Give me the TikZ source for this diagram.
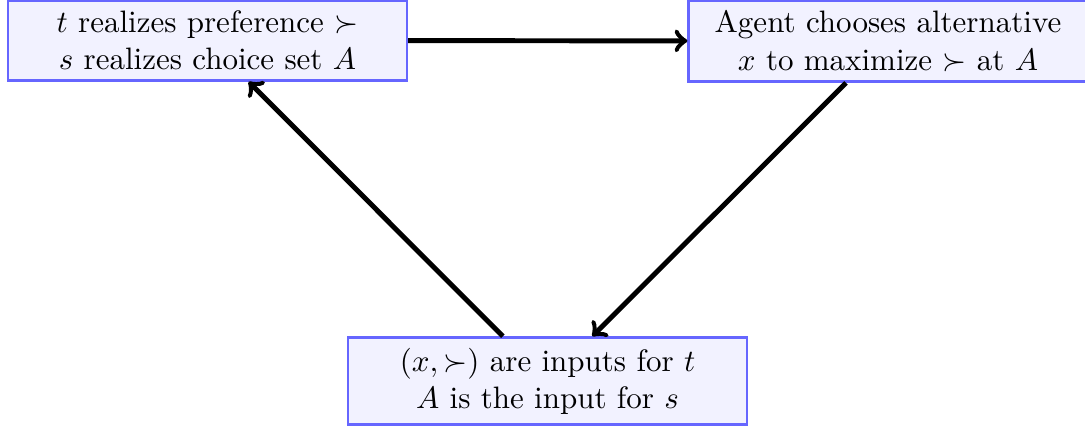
\documentclass[tikz,border=0pt]{standalone}
\usepackage{amsmath,amssymb}
\begin{document}
\begin{tikzpicture}[x=0.3226pt,y=-0.3226pt,
  box/.style={draw=blue!60, fill=blue!5, thick, text width=122pt, align=center, inner sep=3.33pt},
  conn/.style={->, line width=1.6pt}]
\useasboundingbox (0,0) rectangle (1085,429);
\node[box] (tl) at (207.5,40.5) {$t$ realizes preference $\succ$\\ $s$ realizes choice set $A$};
\node[box] (tr) at (888,41) {Agent chooses alternative\\ $x$ to maximize $\succ$ at $A$};
\node[box] (bt) at (547.5,381) {$(x,\succ)$ are inputs for $t$\\ $A$ is the input for $s$};
\draw[conn] (tl) -- (tr);
\draw[conn] (tr) -- (bt);
\draw[conn] (bt) -- (tl);
\end{tikzpicture}
\end{document}
